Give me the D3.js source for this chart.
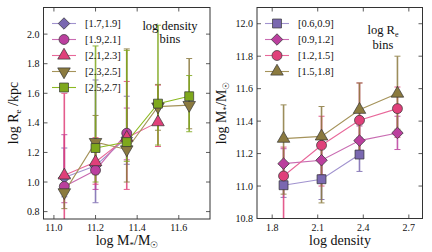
<!DOCTYPE html>
<meta charset="utf-8">
<html>
<script src="https://d3js.org/d3.v7.min.js"></script>
<style>
  body { margin: 0; background: #fff; }
  text { font-family: "Liberation Serif", serif; fill: #111; }
</style>
<div id="chart"></div>
<script>

// ---- data: left panel, R_e vs stellar mass, in log density bins
var massX = [11.05, 11.2, 11.35, 11.5, 11.65];
var densBins = ["[1.7,1.9]", "[1.9,2.1]", "[2.1,2.3]", "[2.3,2.5]", "[2.5,2.7]"];
var reD1 = [1.03, 1.11, 1.30, null, null];
var reD1lo = [0.90, 0.86, 1.12, null, null];
var reD1hi = [1.23, 1.69, 1.58, null, null];
var reD2 = [0.97, 1.08, 1.33, null, null];
var reD2lo = [0.86, 0.95, 1.15, null, null];
var reD2hi = [1.32, 1.25, 1.50, null, null];
var reD3 = [1.045, 1.135, 1.30, 1.405, null];
var reD3lo = [0.70, 0.985, 0.95, 1.24, null];
var reD3hi = [1.60, 1.30, 1.68, 1.655, null];
var reD4 = [0.93, 1.27, 1.22, 1.51, 1.52];
var reD4lo = [0.82, 1.05, 1.00, 1.35, 1.36];
var reD4hi = [1.05, 1.45, 1.90, 1.66, 1.835];
var reD5 = [null, 1.23, 1.27, 1.53, 1.58];
var reD5lo = [null, 1.00, 1.14, 1.25, 1.34];
var reD5hi = [null, 1.92, 1.89, 2.06, 1.72];
var massTicks = [11.0, 11.2, 11.4, 11.6];
var reTicks = [0.8, 1.0, 1.2, 1.4, 1.6, 1.8, 2.0];

// ---- data: right panel, stellar mass vs density, in log R_e bins
var densX = [1.875, 2.125, 2.375, 2.625];
var reBins = ["[0.6,0.9]", "[0.9,1.2]", "[1.2,1.5]", "[1.5,1.8]"];
var mR1 = [11.005, 11.042, 11.194, null];
var mR1lo = [10.93, 10.917, 11.09, null];
var mR1hi = [11.08, 11.17, 11.30, null];
var mR2 = [11.138, 11.159, 11.28, 11.327];
var mR2lo = [11.05, 11.07, 11.19, 11.225];
var mR2hi = [11.23, 11.25, 11.37, 11.43];
var mR3 = [11.062, 11.251, 11.405, 11.477];
var mR3lo = [10.60, 11.00, 11.18, 11.30];
var mR3hi = [11.24, 11.43, 11.635, 11.61];
var mR4 = [11.292, 11.306, 11.47, 11.57];
var mR4lo = [10.95, 10.896, 11.20, 11.35];
var mR4hi = [11.50, 11.49, 11.635, 11.80];
var densTicks = [1.8, 2.1, 2.4, 2.7];
var massYTicks = [10.8, 11.0, 11.2, 11.4, 11.6, 11.8, 12.0];

var purple = {fill: "#7a68b0", line: "#a193cf"},
    magenta = {fill: "#bb3f9e", line: "#c96cb2"},
    pink = {fill: "#e0407a", line: "#e8689a"},
    olive = {fill: "#8b7a3f", line: "#a5935a"},
    green = {fill: "#7ea81c", line: "#8cba22"};

var width = 432, height = 252;

var svg = d3.select("#chart").append("svg")
    .attr("width", width)
    .attr("height", height);

// marker shapes
function marker(sel, kind, c) {
  var p;
  if (kind == "diamond") {
    p = sel.append("path").attr("d", d3.symbol().type(d3.symbolSquare).size(66)())
      .attr("transform", "rotate(45)");
  } else if (kind == "circle") {
    p = sel.append("path").attr("d", d3.symbol().type(d3.symbolCircle).size(78)());
  } else if (kind == "square") {
    p = sel.append("path").attr("d", d3.symbol().type(d3.symbolSquare).size(80)());
  } else if (kind == "tri") {
    p = sel.append("path").attr("d", d3.symbol().type(d3.symbolTriangle).size(68)());
  } else {
    p = sel.append("path").attr("d", d3.symbol().type(d3.symbolTriangle).size(68)())
      .attr("transform", "rotate(180)");
  }
  p.attr("fill", c.fill).attr("stroke", "#333").attr("stroke-width", 0.7);
}

function panel(o) {
  var x = d3.scaleLinear().domain(o.xdom).range([o.left, o.right]);
  var y = d3.scaleLinear().domain(o.ydom).range([o.bottom, o.top]);
  var g = svg.append("g");

  g.append("clipPath").attr("id", o.id)
    .append("rect").attr("x", o.left).attr("y", o.top)
    .attr("width", o.right - o.left).attr("height", o.bottom - o.top);

  var plot = g.append("g").attr("clip-path", "url(#" + o.id + ")");

  // error bars first
  o.series.forEach(function(s) {
    s.y.forEach(function(v, i) {
      if (v == null) return;
      var eb = plot.append("g").attr("stroke", s.c.fill).attr("opacity", 0.85);
      eb.append("line").attr("x1", x(o.xs[i])).attr("x2", x(o.xs[i]))
        .attr("y1", y(s.lo[i])).attr("y2", y(s.hi[i])).attr("stroke-width", 1.6);
      [s.lo[i], s.hi[i]].forEach(function(e) {
        eb.append("line").attr("x1", x(o.xs[i]) - 3).attr("x2", x(o.xs[i]) + 3)
          .attr("y1", y(e)).attr("y2", y(e)).attr("stroke-width", 1);
      });
    });
  });

  var line = d3.line()
    .defined(function(d) { return d[1] != null; })
    .x(function(d) { return x(d[0]); })
    .y(function(d) { return y(d[1]); });

  o.series.forEach(function(s) {
    plot.append("path")
      .datum(o.xs.map(function(xx, i) { return [xx, s.y[i]]; }))
      .attr("d", line)
      .attr("fill", "none")
      .attr("stroke", s.c.line)
      .attr("stroke-width", 1.1);
  });

  o.series.forEach(function(s) {
    s.y.forEach(function(v, i) {
      if (v == null) return;
      var m = plot.append("g").attr("transform", "translate(" + x(o.xs[i]) + "," + y(v) + ")");
      marker(m, s.shape, s.c);
    });
  });

  // axes: ticks inward on all four sides
  var ax = g.append("g").attr("stroke", "#333").attr("stroke-width", 0.8);
  o.xticks.forEach(function(t) {
    ax.append("line").attr("x1", x(t)).attr("x2", x(t)).attr("y1", o.bottom).attr("y2", o.bottom - 4);
    ax.append("line").attr("x1", x(t)).attr("x2", x(t)).attr("y1", o.top).attr("y2", o.top + 4);
    g.append("text").attr("x", x(t)).attr("y", o.bottom + 12)
      .attr("text-anchor", "middle").attr("font-size", "10px").text(d3.format(".1f")(t));
  });
  o.yticks.forEach(function(t) {
    ax.append("line").attr("x1", o.left).attr("x2", o.left + 4).attr("y1", y(t)).attr("y2", y(t));
    ax.append("line").attr("x1", o.right).attr("x2", o.right - 4).attr("y1", y(t)).attr("y2", y(t));
    g.append("text").attr("x", o.left - 4).attr("y", y(t)).attr("dy", "0.35em")
      .attr("text-anchor", "end").attr("font-size", "10px").text(d3.format(".1f")(t));
  });
  g.append("rect").attr("x", o.left).attr("y", o.top)
    .attr("width", o.right - o.left).attr("height", o.bottom - o.top)
    .attr("fill", "none").attr("stroke", "#333").attr("stroke-width", 1);

  // legend
  o.series.forEach(function(s, i) {
    var ly = o.top + 16 + i * 16;
    g.append("line").attr("x1", o.legX - 12).attr("x2", o.legX + 12)
      .attr("y1", ly).attr("y2", ly).attr("stroke", s.c.line).attr("stroke-width", 1.1);
    var m = g.append("g").attr("transform", "translate(" + o.legX + "," + ly + ")");
    marker(m, s.shape, s.c);
    g.append("text").attr("x", o.legX + 21).attr("y", ly).attr("dy", "0.35em")
      .attr("font-size", "10.5px").text(s.name);
  });
  return g;
}

var left = panel({
  id: "clipL", left: 43.5, right: 210, top: 7.5, bottom: 219,
  xdom: [10.95, 11.75], ydom: [0.75, 2.18], xs: massX,
  xticks: massTicks, yticks: reTicks, legX: 64,
  series: [
    {name: densBins[0], y: reD1, lo: reD1lo, hi: reD1hi, c: purple, shape: "diamond"},
    {name: densBins[1], y: reD2, lo: reD2lo, hi: reD2hi, c: magenta, shape: "circle"},
    {name: densBins[2], y: reD3, lo: reD3lo, hi: reD3hi, c: pink, shape: "tri"},
    {name: densBins[3], y: reD4, lo: reD4lo, hi: reD4hi, c: olive, shape: "tridown"},
    {name: densBins[4], y: reD5, lo: reD5lo, hi: reD5hi, c: green, shape: "square"}
  ]
});

var right = panel({
  id: "clipR", left: 257, right: 422.5, top: 7.5, bottom: 218.5,
  xdom: [1.7, 2.79], ydom: [10.8, 12.1], xs: densX,
  xticks: densTicks, yticks: massYTicks, legX: 277,
  series: [
    {name: reBins[0], y: mR1, lo: mR1lo, hi: mR1hi, c: purple, shape: "square"},
    {name: reBins[1], y: mR2, lo: mR2lo, hi: mR2hi, c: magenta, shape: "diamond"},
    {name: reBins[2], y: mR3, lo: mR3lo, hi: mR3hi, c: pink, shape: "circle"},
    {name: reBins[3], y: mR4, lo: mR4lo, hi: mR4hi, c: olive, shape: "tri"}
  ]
});

// axis labels
function massLabel(sel) {
  sel.append("tspan").text("log M");
  sel.append("tspan").attr("font-size", "9px").attr("dy", "3").text("*");
  sel.append("tspan").attr("dy", "-3").text("/M");
  sel.append("tspan").attr("font-size", "9px").attr("dy", "3").text("\u2609");
}

svg.append("text").attr("x", 127).attr("y", 245).attr("text-anchor", "middle")
  .attr("font-size", "14px").call(massLabel);
svg.append("text").attr("x", 340).attr("y", 245).attr("text-anchor", "middle")
  .attr("font-size", "14px").text("log density");

var yl = svg.append("text").attr("transform", "translate(18,113) rotate(-90)")
  .attr("text-anchor", "middle").attr("font-size", "14px");
yl.append("tspan").text("log R");
yl.append("tspan").attr("font-size", "9px").attr("dy", "3").text("e");
yl.append("tspan").attr("dy", "-3").text(" /kpc");

svg.append("text").attr("transform", "translate(226,113) rotate(-90)")
  .attr("text-anchor", "middle").attr("font-size", "14px").call(massLabel);

// panel notes
svg.append("text").attr("x", 170).attr("y", 30).attr("text-anchor", "middle")
  .attr("font-size", "12.5px").text("log density");
svg.append("text").attr("x", 170).attr("y", 43).attr("text-anchor", "middle")
  .attr("font-size", "12.5px").text("bins");
var rn = svg.append("text").attr("x", 383).attr("y", 34).attr("text-anchor", "middle")
  .attr("font-size", "12.5px");
rn.append("tspan").text("log R");
rn.append("tspan").attr("font-size", "8px").attr("dy", "3").text("e");
svg.append("text").attr("x", 383).attr("y", 49).attr("text-anchor", "middle")
  .attr("font-size", "12.5px").text("bins");

</script>
</html>
